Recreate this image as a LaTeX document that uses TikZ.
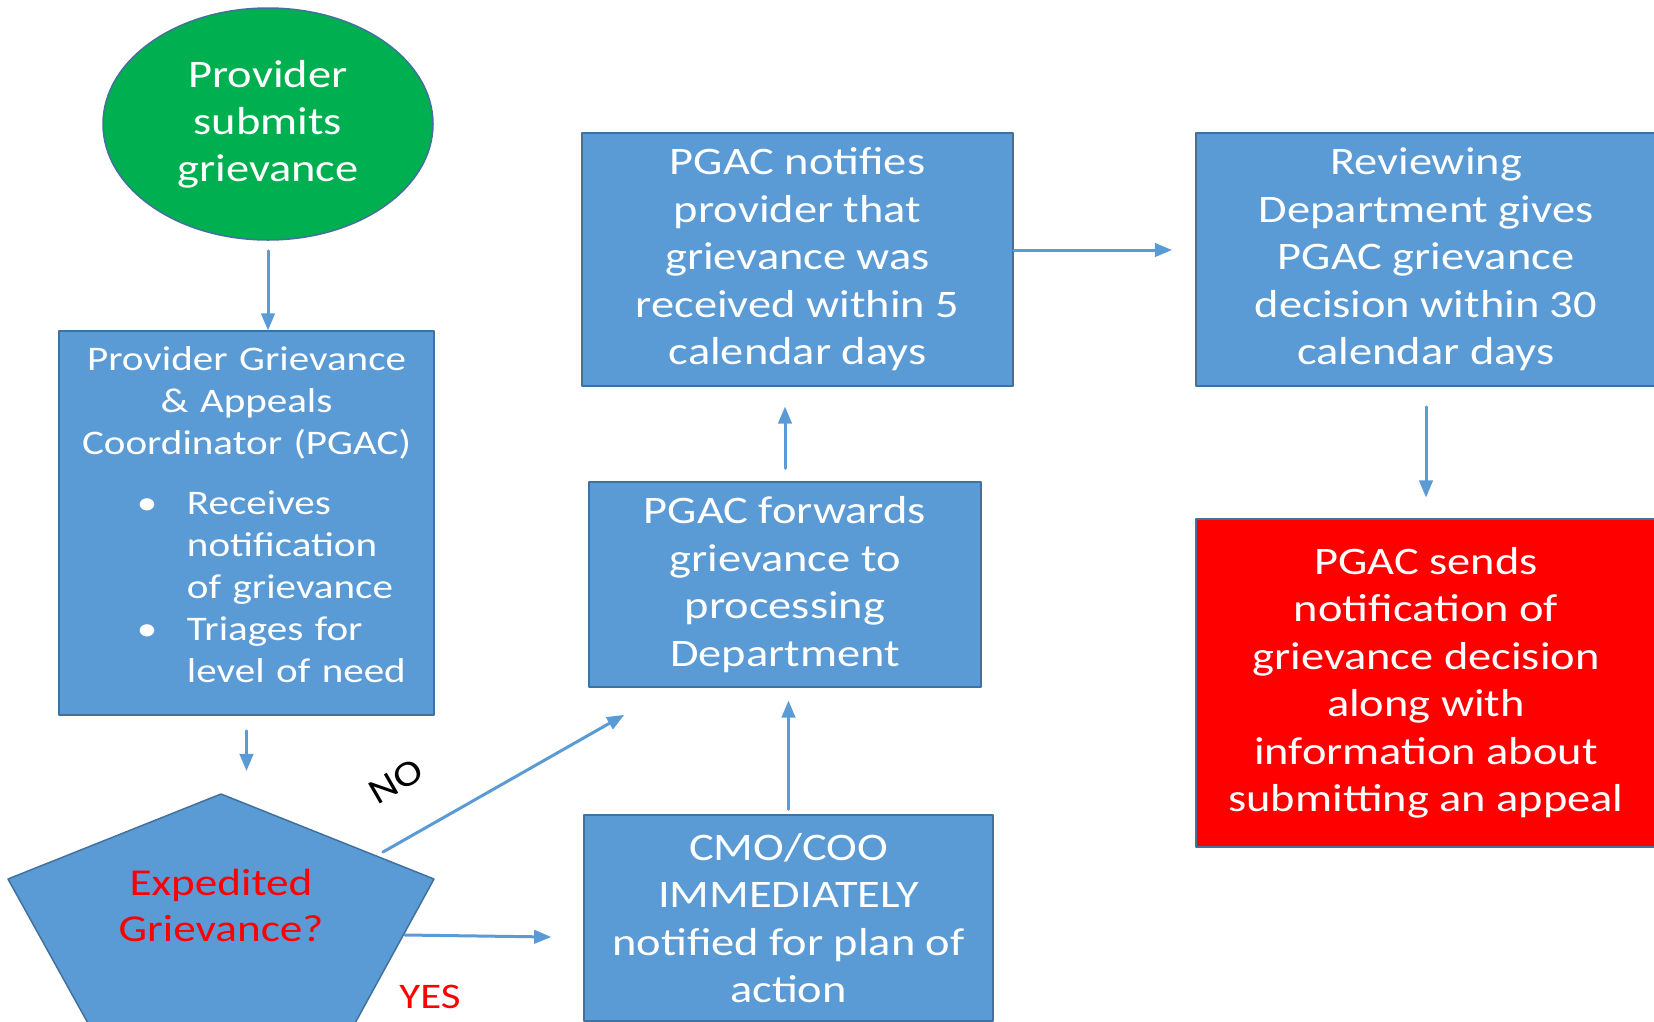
\documentclass[tikz,border=0pt]{standalone}
\usepackage{fontspec}
\setmainfont{Carlito}[FakeStretch=1.19]
\usetikzlibrary{arrows,shapes.geometric}
\definecolor{boxblue}{HTML}{5B9BD5}
\definecolor{boxline}{HTML}{41719C}
\definecolor{startgreen}{HTML}{00B050}

\begin{document}
\begin{tikzpicture}[thick, line cap=round, line join=round, >=triangle 45, x=1pt, y=-1pt,
    box/.style={rectangle, draw=boxline, line width=1.5pt, fill=boxblue, text=white, align=center, inner sep=0pt, font=\fontsize{39}{47.5}\selectfont},
    flow/.style={->, draw=boxblue, line width=3pt},
    tag/.style={inner sep=0pt, font=\fontsize{36}{40}\selectfont}]
    \useasboundingbox (0,0) rectangle (1654,1021);
    \draw(268,124) node[ellipse, draw=boxline, line width=1.5pt, fill=startgreen, text=white, align=center, inner sep=0pt, minimum width=330pt, minimum height=232pt, font=\fontsize{39}{47}\selectfont] (n0) {Provider\\submits\\grievance};
    \draw(246.5,523) node[box, minimum width=375pt, minimum height=384pt, text width=375pt, font=\fontsize{34.5}{42}\selectfont] (n1) {Provider Grievance\\\& Appeals\\Coordinator (PGAC)\par\vspace{18pt}
      \raggedright\leftskip=128pt\parindent=0pt
      \leavevmode\llap{\makebox[50pt][l]{\textbullet}}Receives\\notification\\of grievance\par
      \leavevmode\llap{\makebox[50pt][l]{\textbullet}}Triages for\\level of need\par\vspace{16pt}};
    % decision pentagon
    \coordinate (p0) at (221,794);
    \coordinate (p1) at (434,879);
    \coordinate (p2) at (354,1025);
    \coordinate (p3) at (89,1025);
    \coordinate (p4) at (8,879);
    \draw[draw=boxline, line width=1.5pt, fill=boxblue] (p0) -- (p1) -- (p2) -- (p3) -- (p4) -- cycle;
    \draw(221,905) node[text=red, align=center, font=\fontsize{38}{46}\selectfont] (n3) {Expedited\\Grievance?};
    \coordinate (n3no) at (383,852);
    \coordinate (n3yes) at (405,935);
    \coordinate (noend) at (624,715);
    \coordinate (yesend) at (551,937);
    \draw(788.5,918) node[box, minimum width=409pt, minimum height=206pt] (n2) {CMO/COO\\IMMEDIATELY\\notified for plan of\\action};
    \draw(785,584.5) node[box, minimum width=392pt, minimum height=205pt] (n4) {PGAC forwards\\grievance to\\processing\\Department};
    \draw(797.5,259.5) node[box, minimum width=431pt, minimum height=253pt] (n5) {PGAC notifies\\provider that\\grievance was\\received within 5\\calendar days};
    \draw(1426,259.5) node[box, minimum width=460pt, minimum height=253pt] (n6) {Reviewing\\Department gives\\PGAC grievance\\decision within 30\\calendar days};
    \draw(1426,683) node[box, fill=red, minimum width=460pt, minimum height=328pt] (n7) {PGAC sends\\notification of\\grievance decision\\along with\\information about\\submitting an appeal};
    \draw(396,781) node[tag, rotate=30] (l0) {NO};
    \draw(430,997) node[tag, text=red] (l1) {YES};
    % connectors
    \draw[flow] ([yshift=-10pt]n0.south) -- (n0.south |- n1.north);
    \draw[flow] ([yshift=-15pt]n1.south) -- ++(0,40);
    \draw[flow] (n3no) -- (noend);
    \draw[flow] (n3yes) -- (yesend);
    \draw[flow] ([yshift=5pt]n2.north) -- ([yshift=-13pt]n2.north |- n4.south);
    \draw[flow] ([yshift=13pt]n4.north) -- ([yshift=-20pt]n4.north |- n5.south);
    \draw[flow] ([yshift=9.5pt]n5.east) -- ++(158,0);
    \draw[flow] ([yshift=-20pt]n6.south) -- ([yshift=21pt]n7.north);
\end{tikzpicture}
\end{document}
